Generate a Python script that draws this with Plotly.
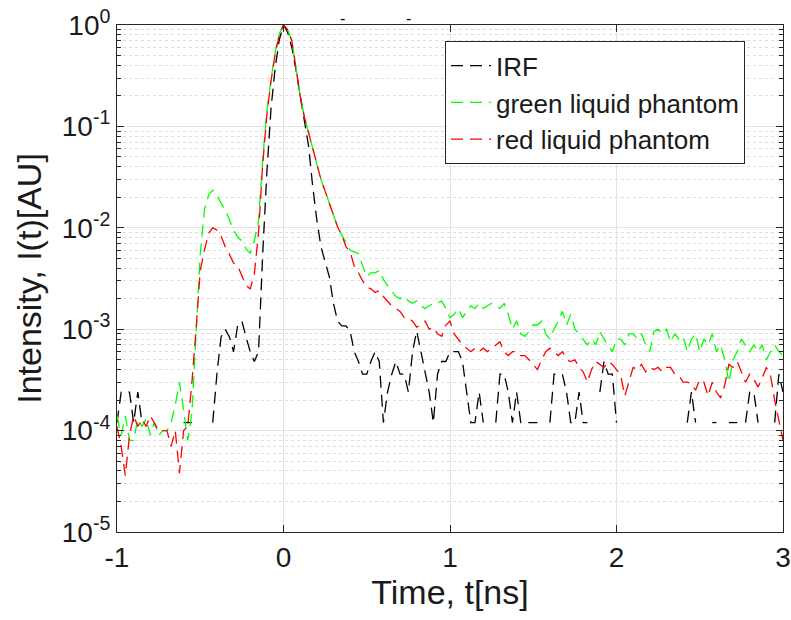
import numpy as np
import plotly.graph_objects as go

# ---------------- data ----------------
t_start, t_step, n_pts = -1.0, 0.025, 161
time_ns = np.round(t_start + t_step * np.arange(n_pts), 4)

irf = [
    1.2e-4, 2.4e-4, 2.4e-4, 2.4e-4, 1.2e-4, 2.4e-4, 1.2e-4, None, None, None,
    None, None, None, None, None, None, 1.2e-4, 1.2e-4, 1.2e-4, None,
    None, None, None, 1.2e-4, 3.6e-4, 8.4e-4, 1.0e-3, 8.4e-4, 6.0e-4, 1.1e-3,
    1.2e-3, 8.4e-4, 6.0e-4, 4.8e-4, 6.0e-4, 5.5e-3, 0.035, 0.15, 0.38, 0.72,
    1.0, 0.85, 0.6, 0.36, 0.2, 0.12, 0.065, 0.026, 0.012, 0.0065,
    0.0045, 0.0033, 0.0018, 1.2e-3, 1.08e-3, 1.08e-3, 9.6e-4, 6.0e-4, 4.8e-4, 3.6e-4,
    3.6e-4, 4.8e-4, 6.0e-4, 4.8e-4, 1.2e-4, 2.4e-4, 3.6e-4, 4.8e-4, 3.6e-4, 3.6e-4,
    2.4e-4, 6.0e-4, 9.6e-4, 6.0e-4, 3.6e-4, 2.4e-4, 1.2e-4, 3.6e-4, 4.8e-4, 4.8e-4,
    6.0e-4, 6.0e-4, 6.0e-4, 4.8e-4, 2.4e-4, 1.2e-4, 1.2e-4, 2.4e-4, 1.2e-4, None,
    None, 1.2e-4, 3.6e-4, 3.6e-4, 2.4e-4, 1.2e-4, 2.4e-4, 1.2e-4, 1.2e-4, 1.2e-4,
    1.2e-4, 1.2e-4, None, None, 1.2e-4, 3.6e-4, 3.6e-4, 3.6e-4, 2.4e-4, 1.2e-4,
    1.2e-4, 2.4e-4, 1.2e-4, 1.2e-4, None, None, 2.4e-4, 4.8e-4, 3.6e-4, 3.6e-4,
    1.2e-4, None, None, None, None, None, None, None, None, None,
    None, None, None, None, None, None, None, 1.2e-4, 2.4e-4, 1.2e-4,
    None, None, None, 1.2e-4, 1.2e-4, None, None, 1.2e-4, 1.2e-4, 1.2e-4,
    None, 1.2e-4, 2.4e-4, 2.4e-4, 1.2e-4, None, None, None, 1.2e-4, 3.6e-4,
    2.4e-4,
]

green = [
    1.4e-4, 9e-5, 1.4e-4, 8e-5, 8e-5, 1.3e-4, 1.1e-4, 1.3e-4, 9e-5, 1.2e-4,
    9e-5, 1.0e-4, 1.0e-4, 1.2e-4, 1.8e-4, 3.0e-4, 1.6e-4, 8e-5, 1.5e-4, 1.0e-3,
    5.5e-3, 0.015, 0.021, 0.0235, 0.021, 0.0175, 0.015, 0.012, 0.0095, 0.0081,
    0.0074, 0.0062, 0.0056, 0.0075, 0.0115, 0.047, 0.14, 0.29, 0.54, 0.82,
    1.0, 0.9, 0.7, 0.38, 0.2, 0.125, 0.087, 0.06, 0.041, 0.030,
    0.023, 0.0174, 0.013, 0.0102, 0.0085, 0.0071, 0.006, 0.0058, 0.0056, 0.0042,
    0.0033, 0.0036, 0.0036, 0.0038, 0.0031, 0.0027, 0.0024, 0.0021, 0.0020, 0.0021,
    0.0019, 0.0018, 0.0019, 0.0017, 0.0016, 0.0017, 0.0018, 0.0018, 0.0019, 0.0016,
    0.0013, 0.0014, 0.0016, 0.0013, 0.0015, 0.0017, 0.0016, 0.0018, 0.0016, 0.0017,
    0.0018, 0.0017, 0.0016, 0.0018, 0.0014, 0.0010, 0.0012, 0.0009, 0.00085, 0.00095,
    0.0011, 0.0011, 0.0012, 0.0009, 0.0008, 0.0010, 0.0012, 0.0015, 0.0011, 0.0014,
    0.0010, 0.0009, 0.0008, 0.0007, 0.0008, 0.0007, 0.00095, 0.0008, 0.0007, 0.0006,
    0.0008, 0.0008, 0.0007, 0.0009, 0.0009, 0.0008, 0.0009, 0.0007, 0.0006, 0.00095,
    0.0010, 0.0009, 0.0010, 0.00075, 0.0009, 0.0008, 0.00085, 0.0006, 0.0008, 0.0009,
    0.0006, 0.0008, 0.0007, 0.0009, 0.0006, 0.0007, 0.0005, 0.0003, 0.0005, 0.0006,
    0.0008, 0.0007, 0.0006, 0.0007, 0.0006, 0.0007, 0.0005, 0.0006, 0.0007, 0.0006,
    0.00055,
]

red = [
    1.1e-4, 7e-5, 3.6e-5, 9e-5, 1.4e-4, 1.1e-4, 1.3e-4, 1.1e-4, 1.4e-4, 1.2e-4,
    1.0e-4, 1.0e-4, 1.0e-4, 7e-5, 1.0e-4, 3.8e-5, 1.0e-4, 1.1e-4, 3.0e-4, 1.0e-3,
    0.0038, 0.006, 0.0088, 0.010, 0.0095, 0.0083, 0.0065, 0.0055, 0.0045, 0.0042,
    0.0034, 0.0027, 0.0025, 0.0035, 0.009, 0.042, 0.13, 0.28, 0.52, 0.8,
    1.0, 0.9, 0.7, 0.38, 0.2, 0.125, 0.087, 0.06, 0.041, 0.030,
    0.023, 0.0174, 0.013, 0.0102, 0.0085, 0.0065, 0.0058, 0.0042, 0.0036, 0.0030,
    0.0026, 0.0025, 0.0023, 0.0024, 0.0021, 0.0019, 0.0017, 0.0016, 0.0015, 0.0013,
    0.0013, 0.0012, 0.00105, 0.0011, 0.0012, 0.0010, 0.00105, 0.0009, 0.00085, 0.0011,
    0.0012, 0.0009, 0.0008, 0.0007, 0.00065, 0.0006, 0.00065, 0.0006, 0.00065, 0.0006,
    0.00065, 0.0007, 0.00075, 0.0006, 0.00055, 0.0006, 0.0006, 0.00055, 0.00055, 0.0005,
    0.00045, 0.0004, 0.0005, 0.0006, 0.00065, 0.0006, 0.00055, 0.0006, 0.0005, 0.00048,
    0.0005, 0.00042, 0.00038, 0.0003, 0.0004, 0.00048, 0.00045, 0.00042, 0.00048, 0.00045,
    0.0004, 0.00035, 0.00022, 0.0003, 0.00042, 0.0004, 0.00045, 0.00038, 0.00042, 0.0004,
    0.00042, 0.00038, 0.00042, 0.00042, 0.00036, 0.00035, 0.0003, 0.0003, 0.00029, 0.00025,
    0.00032, 0.0003, 0.00022, 0.0003, 0.00024, 0.00021, 0.00028, 0.00045, 0.00042, 0.00048,
    0.00038, 0.0003, 0.00036, 0.00032, 0.00027, 0.00033, 0.00042, 0.00035, 0.0002, 0.00013,
    8e-5,
]

series_names = ["IRF", "green liquid phantom", "red liquid phantom"]
series_colors = ["#000000", "#00ff00", "#ff0000"]

x_tick_vals = [-1, 0, 1, 2, 3]
x_tick_text = ["-1", "0", "1", "2", "3"]
y_tick_vals = [1e-5, 1e-4, 1e-3, 1e-2, 1e-1, 1e0]
y_tick_text = ["\u00a010<sup>-5</sup>", "\u00a010<sup>-4</sup>", "\u00a010<sup>-3</sup>",
               "\u00a010<sup>-2</sup>", "\u00a010<sup>-1</sup>", "\u00a010<sup>0</sup>"]

# ---------------- figure ----------------
fig = go.Figure()
for name, color, vals in zip(series_names, series_colors, [irf, green, red]):
    fig.add_trace(go.Scatter(
        x=time_ns, y=vals, mode="lines", name=name,
        line=dict(color=color, width=1.3, dash="12px,7px"),
        connectgaps=False,
    ))

axis_col = "#262626"
txt_col = "#1a1a1a"
fig.update_layout(
    width=791, height=620,
    margin=dict(l=117, r=8, t=25, b=88),
    paper_bgcolor="white", plot_bgcolor="white",
    font=dict(family="Liberation Sans, Arial, sans-serif", color=txt_col),
    showlegend=True,
    legend=dict(
        x=0.4925, y=0.968, xanchor="left", yanchor="top",
        bgcolor="white", bordercolor=axis_col, borderwidth=1,
        font=dict(size=26, color=txt_col), tracegroupgap=0, itemwidth=40,
    ),
    annotations=[
        dict(text="-", x=0.338, y=1.0138, xref="paper", yref="paper",
             xanchor="center", yanchor="middle",
             showarrow=False, font=dict(size=16, color="#000000")),
        dict(text="-", x=0.437, y=1.0138, xref="paper", yref="paper",
             xanchor="center", yanchor="middle",
             showarrow=False, font=dict(size=16, color="#000000")),
    ],
)

fig.update_xaxes(
    range=[-1, 3], tickvals=x_tick_vals, ticktext=x_tick_text,
    automargin=False,
    showgrid=True, gridcolor="#e3e3e3", gridwidth=1,
    zeroline=False,
    showline=True, linecolor=axis_col, linewidth=1, mirror="allticks",
    ticks="inside", ticklen=7, tickcolor=axis_col,
    tickfont=dict(size=28, color=txt_col),
    title=dict(text="Time, t[ns]", font=dict(size=34, color=txt_col), standoff=6),
)

fig.update_yaxes(
    type="log", range=[-5, 0],
    tickvals=y_tick_vals, ticktext=y_tick_text,
    automargin=False,
    showgrid=True, gridcolor="#e3e3e3", gridwidth=1,
    zeroline=False,
    showline=True, linecolor=axis_col, linewidth=1, mirror="allticks",
    ticks="inside", ticklen=7, tickcolor=axis_col,
    tickfont=dict(size=28, color=txt_col),
    minor=dict(dtick="D1", ticks="inside", ticklen=4, tickcolor=axis_col,
               showgrid=True, gridcolor="#dedede", griddash="dot", gridwidth=1),
    title=dict(text="Intensity, I(t)[AU]", font=dict(size=34, color=txt_col), standoff=2),
)

fig.write_html("out.html", config={"displayModeBar": False},
               post_script="document.body.style.margin='0px';")
